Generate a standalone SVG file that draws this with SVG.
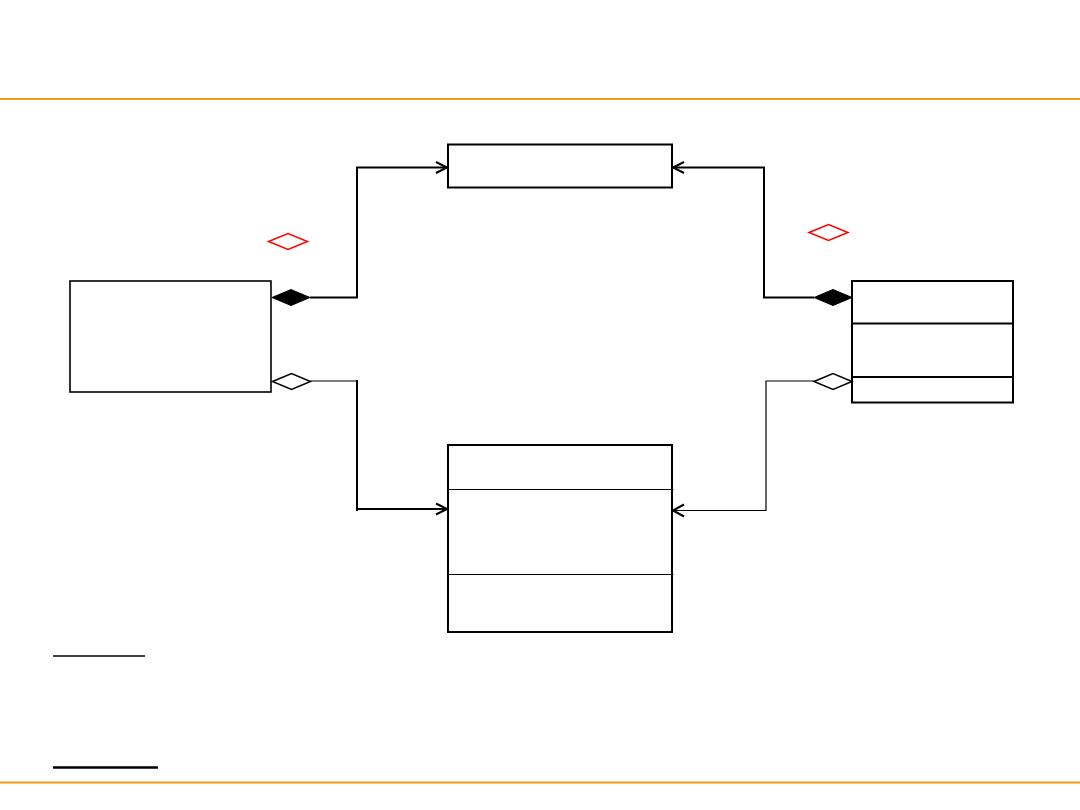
<svg xmlns="http://www.w3.org/2000/svg" width="1080" height="810" viewBox="0 0 1080 810">
<style>
.box{fill:#fff;stroke:#000;stroke-width:2}
.div{stroke:#000;stroke-width:2}
.thin{stroke:#000;stroke-width:1.2}
.conn{fill:none;stroke:#000;stroke-width:2}
.connthin{fill:none;stroke:#000;stroke-width:1.2}
.chev{fill:none;stroke:#000;stroke-width:2}
.rule{stroke:#F39C12;stroke-width:2}
.red{fill:none;stroke:#FF0000;stroke-width:1.5}
</style>
<rect width="1080" height="810" fill="#fff"/>
<line class="rule" x1="0" y1="99" x2="1080" y2="99"/>
<line class="rule" x1="0" y1="782.5" x2="1080" y2="782.5"/>

<g id="node-top">
<rect class="box" x="448" y="144.5" width="224" height="43"/>
</g>
<g id="node-left">
<rect class="box" x="70" y="281" width="201" height="111" style="stroke-width:1.6"/>
</g>
<g id="node-right">
<rect class="box" x="852" y="281" width="161" height="121.5"/>
<line class="div" x1="852" y1="323.5" x2="1013" y2="323.5"/>
<line class="div" x1="852" y1="377" x2="1013" y2="377"/>
</g>
<g id="node-bottom">
<rect class="box" x="448" y="445" width="224" height="187"/>
<line class="thin" x1="448" y1="489.5" x2="673.5" y2="489.5"/>
<line class="thin" x1="448" y1="574.5" x2="673.5" y2="574.5"/>
</g>

<g id="connectors">
<polygon points="272,297.5 291,289.5 310,297.5 291,305.5" fill="#000" stroke="#000" stroke-width="1"/>
<polyline class="conn" points="310,297.5 357,297.5 357,167.5 447,167.5"/>
<polyline class="chev" points="436,162 447,167.5 436,173"/>

<polygon points="814,297.5 833,289.5 852,297.5 833,305.5" fill="#000" stroke="#000" stroke-width="1"/>
<polyline class="conn" points="814,297.5 764,297.5 764,167.5 673,167.5"/>
<polyline class="chev" points="684,162 673,167.5 684,173"/>

<polygon points="272.5,381.5 291.5,373.5 310.5,381.5 291.5,389.5" fill="#fff" stroke="#000" stroke-width="1.5"/>
<line class="connthin" x1="310.5" y1="381" x2="357" y2="381"/>
<line class="conn" x1="357" y1="380" x2="357" y2="511"/>
<line class="conn" x1="357" y1="509" x2="447" y2="509"/>
<polyline class="chev" points="436,503.5 447,509 436,514.5"/>

<polygon points="814,381.5 833,373.5 852,381.5 833,389.5" fill="#fff" stroke="#000" stroke-width="1.5"/>
<polyline class="connthin" points="814,381 766,381 766,510.5 673,510.5"/>
<polyline class="chev" points="684,504.5 673,510.5 684,516.5"/>
</g>

<polygon class="red" points="268.5,241.5 288,233.5 307.5,241.5 288,249.5"/>
<polygon class="red" points="809,232.5 828.5,224.5 848,232.5 828.5,240.5"/>

<line stroke="#000" stroke-width="1.5" x1="53" y1="656" x2="145" y2="656"/>
<line stroke="#000" stroke-width="2.5" x1="53" y1="767.5" x2="158" y2="767.5"/>
</svg>
